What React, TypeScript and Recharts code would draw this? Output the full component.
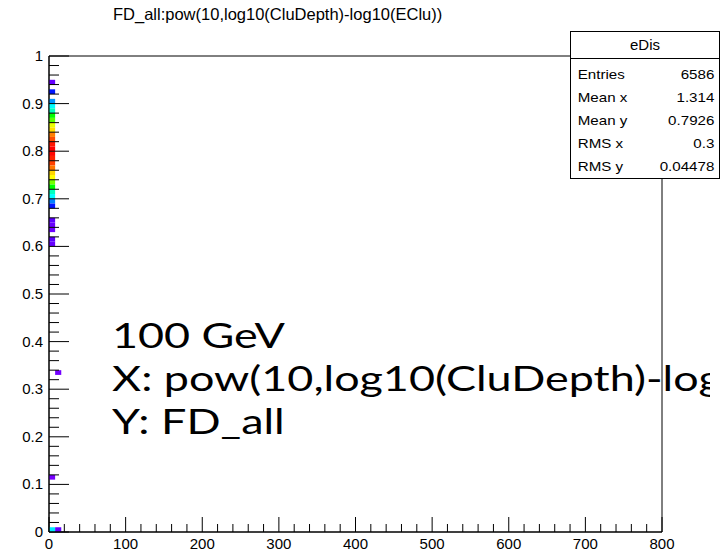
import React from 'react';
import { ScatterChart, Scatter, XAxis, YAxis, ReferenceArea } from 'recharts';

// axis tick labels
const xMajorTicks = [0, 100, 200, 300, 400, 500, 600, 700, 800];
const yMajorTicks = [0, 0.1, 0.2, 0.3, 0.4, 0.5, 0.6, 0.7, 0.8, 0.9, 1];

// 2D histogram, bins of 8 in x and 0.01 in y
const binX = 8;
const binY = 0.01;

// first x bin (0-8): lower edge of each filled y bin and its content
const col0Y = [
  0.94, 0.92, 0.90, 0.89, 0.88, 0.87, 0.86, 0.85, 0.84, 0.83, 0.82, 0.81,
  0.80, 0.79, 0.78, 0.77, 0.76, 0.75, 0.74, 0.73, 0.72, 0.71, 0.70, 0.69,
  0.68, 0.65, 0.64, 0.63, 0.61, 0.60, 0.11, 0.00,
];
const col0Counts = [
  8, 47, 87, 120, 140, 200, 227, 273, 290, 320, 336, 353,
  360, 358, 350, 340, 323, 293, 280, 236, 200, 140, 120, 80,
  47, 11, 7, 6, 11, 8, 3, 113,
];

// second x bin (8-16)
const col1Y = [0.33, 0.00];
const col1Counts = [4, 9];

const statLabels = ['Entries', 'Mean x', 'Mean y', 'RMS x', 'RMS y'];
const statValues = ['6586', '1.314', '0.7926', '0.3', '0.04478'];

const overlayLines = ['100 GeV', 'X: pow(10,log10(CluDepth)-log10(EClu))', 'Y: FD_all'];

const maxCount = Math.max(...col0Counts, ...col1Counts);

// rainbow palette, violet (low) to red (high)
const palette = (c: number): string => {
  const f = Math.min(1, c / maxCount);
  return `hsl(${270 * (1 - f)}, 100%, 50%)`;
};

const subdivide = (majors: number[], n: number): number[] => {
  const out: number[] = [];
  for (let i = 0; i < majors.length - 1; i++) {
    const step = (majors[i + 1] - majors[i]) / n;
    for (let k = 0; k < n; k++) out.push(+(majors[i] + k * step).toFixed(4));
  }
  out.push(majors[majors.length - 1]);
  return out;
};

const xTicks = subdivide(xMajorTicks, 5);
const yTicks = subdivide(yMajorTicks, 5);

const isMajor = (v: number, majors: number[]) => majors.some((m) => Math.abs(m - v) < 1e-6);

const cells = [
  ...col0Y.map((y, i) => ({ x: 0, y, count: col0Counts[i] })),
  ...col1Y.map((y, i) => ({ x: binX, y, count: col1Counts[i] })),
];

const labelFont = '"Liberation Sans", Arial, Helvetica, sans-serif';

const XTick = (props: any) => {
  const { x, y, payload } = props;
  const major = isMajor(payload.value, xMajorTicks);
  return (
    <g>
      <line x1={x} y1={y} x2={x} y2={y - (major ? 15 : 8)} stroke="#000" strokeWidth={1} />
      {major && (
        <text x={x} y={y + 17} textAnchor="middle" fontSize={15} fontFamily={labelFont} fill="#000">
          {payload.value}
        </text>
      )}
    </g>
  );
};

const YTick = (props: any) => {
  const { x, y, payload } = props;
  const major = isMajor(payload.value, yMajorTicks);
  return (
    <g>
      <line x1={x} y1={y} x2={x + (major ? 20 : 10)} y2={y} stroke="#000" strokeWidth={1} />
      {major && (
        <text x={x - 6} y={y + 5} textAnchor="end" fontSize={15} fontFamily={labelFont} fill="#000">
          {payload.value}
        </text>
      )}
    </g>
  );
};

export default (): React.ReactElement => {
  return (
    <div style={{ position: 'absolute', left: 0, top: 0, width: 722, height: 555, background: '#fff', overflow: 'hidden' }}>
      <div
        style={{
          position: 'absolute', left: 113, top: 5, fontFamily: labelFont, fontSize: 16.5,
          color: '#000', whiteSpace: 'nowrap',
        }}
      >
        FD_all:pow(10,log10(CluDepth)-log10(EClu))
      </div>

      <ScatterChart
        width={722}
        height={555}
        margin={{ top: 56, right: 60, bottom: 22, left: 48 }}
        style={{ position: 'absolute', left: 0, top: 0 }}
      >
        <XAxis
          type="number"
          dataKey="x"
          domain={[0, 800]}
          ticks={xTicks}
          interval={0}
          allowDataOverflow
          height={1}
          tickSize={0}
          tickMargin={0}
          tickLine={false}
          tick={<XTick />}
          axisLine={{ stroke: '#000' }}
        />
        <YAxis
          type="number"
          dataKey="y"
          domain={[0, 1]}
          ticks={yTicks}
          interval={0}
          allowDataOverflow
          width={1}
          tickSize={0}
          tickMargin={0}
          tickLine={false}
          tick={<YTick />}
          axisLine={{ stroke: '#000' }}
        />

        <ReferenceArea x1={0} x2={800} y1={0} y2={1} fill="none" stroke="#000" strokeWidth={1} fillOpacity={0} />

        {cells.map((c, i) => (
          <ReferenceArea
            key={i}
            x1={c.x}
            x2={c.x + binX}
            y1={c.y}
            y2={c.y + binY}
            fill={palette(c.count)}
            fillOpacity={1}
            stroke="none"
          />
        ))}

        <Scatter data={cells} dataKey="y" isAnimationActive={false} shape={() => <g />} />
      </ScatterChart>

      <div
        style={{
          position: 'absolute', left: 570, top: 31, width: 150, height: 148, boxSizing: 'border-box',
          border: '1px solid #000', background: '#fff', fontFamily: labelFont, color: '#000',
        }}
      >
        <div style={{ height: 26, borderBottom: '1px solid #000', textAlign: 'center', fontSize: 15, lineHeight: '26px' }}>
          eDis
        </div>
        <div style={{ padding: '4px 0 0 6px', width: 122, transform: 'scaleX(1.12)', transformOrigin: 'left top' }}>
          {statLabels.map((l, i) => (
            <div key={l} style={{ display: 'flex', justifyContent: 'space-between', fontSize: 13.5, height: 23, lineHeight: '23px' }}>
              <span>{l}</span>
              <span>{statValues[i]}</span>
            </div>
          ))}
        </div>
      </div>

      <div style={{ position: 'absolute', left: 112, top: 313, width: 598, height: 140, overflow: 'hidden' }}>
        <div
          style={{
            fontFamily: 'Lato, "Open Sans", sans-serif', fontSize: 34, lineHeight: '43px',
            color: '#000', whiteSpace: 'nowrap', transform: 'scaleX(1.32)', transformOrigin: 'left top',
          }}
        >
          {overlayLines.map((t) => (
            <div key={t}>{t}</div>
          ))}
        </div>
      </div>
    </div>
  );
};
